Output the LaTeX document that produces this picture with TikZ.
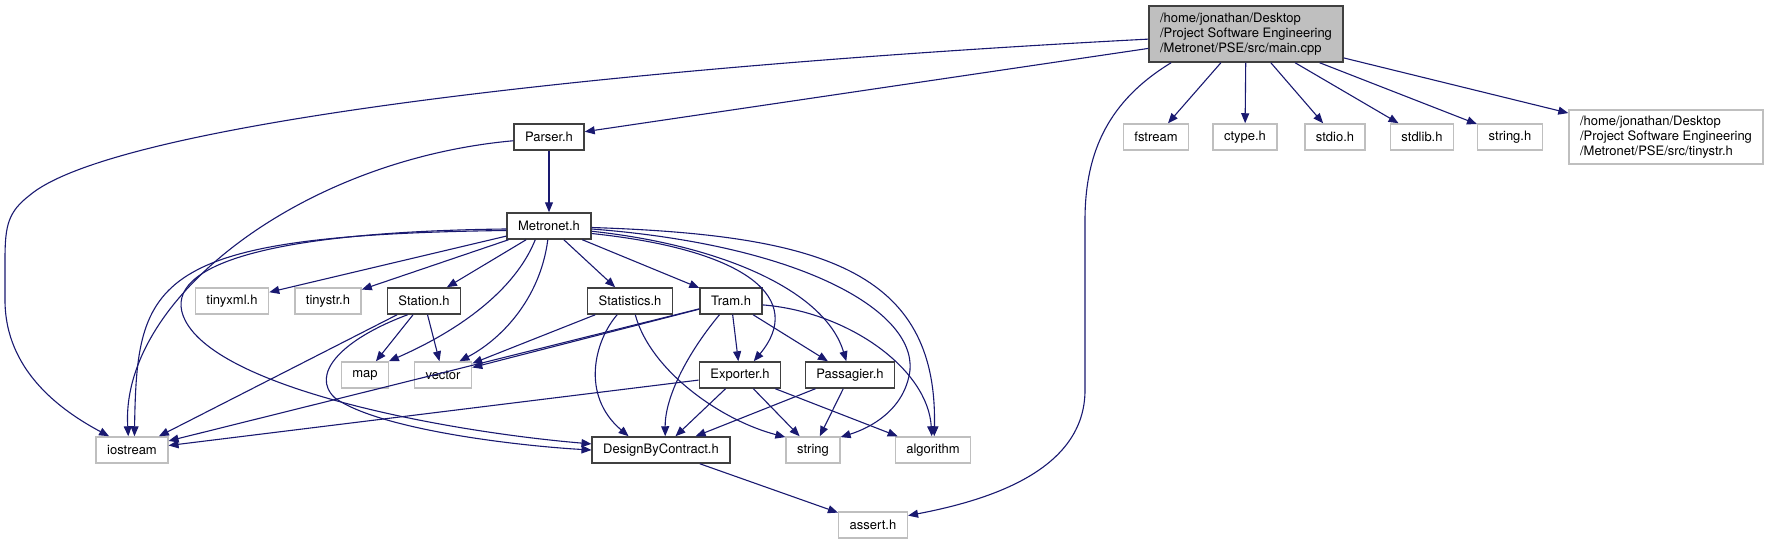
\documentclass[tikz,border=0pt]{standalone}
\usepackage{fontspec}
\setmainfont{TeX Gyre Heros}
\usepackage{tikz}
\usetikzlibrary{arrows.meta}
\definecolor{edgeblue}{HTML}{191970}
\definecolor{boxgray}{HTML}{BFBFBF}
\definecolor{boxdark}{HTML}{404040}

\begin{document}
\begin{tikzpicture}[x=1pt, y=-1pt,
    every node/.style={font=\fontsize{13}{15}\selectfont},
    hdr/.style={draw=boxdark, line width=1.5pt, fill=white, inner xsep=11pt, inner ysep=0pt, minimum height=26pt},
    sys/.style={hdr, draw=boxgray},
    root/.style={hdr, fill=boxgray, align=left, minimum height=56pt},
    dep/.style={draw=edgeblue, line width=1.1pt, -{Triangle[length=10pt, width=8pt]}}]
    \useasboundingbox (0,0) rectangle (1768,544);

    % main.cpp and the first row
    \node[root] (main) at (1246,34) {/home/jonathan/Desktop\\/Project Software Engineering\\/Metronet/PSE/src/main.cpp};
    \node[hdr] (parser) at (549,137) {Parser.h};
    \node[sys] (fstream) at (1156,137) {fstream};
    \node[sys] (ctype) at (1245,137) {ctype.h};
    \node[sys] (stdio) at (1335,137) {stdio.h};
    \node[sys] (stdlib) at (1422,137) {stdlib.h};
    \node[sys] (stringh) at (1510,137) {string.h};
    \node[sys, align=left, minimum height=54pt] (tinystrfull) at (1666,137) {/home/jonathan/Desktop\\/Project Software Engineering\\/Metronet/PSE/src/tinystr.h};

    \node[hdr] (metronet) at (549,226) {Metronet.h};

    \node[sys] (tinyxml) at (232,301) {tinyxml.h};
    \node[sys] (tinystr) at (328,301) {tinystr.h};
    \node[hdr] (station) at (424,301) {Station.h};
    \node[hdr] (statistics) at (630,301) {Statistics.h};
    \node[hdr] (tram) at (731,301) {Tram.h};

    \node[sys] (map) at (365,375) {map};
    \node[sys] (vector) at (443,375) {vector};
    \node[hdr] (exporter) at (740,375) {Exporter.h};
    \node[hdr] (passagier) at (850,375) {Passagier.h};

    \node[sys] (iostream) at (132,450) {iostream};
    \node[hdr] (dbc) at (661,450) {DesignByContract.h};
    \node[sys] (string) at (813,450) {string};
    \node[sys] (algorithm) at (933,450) {algorithm};

    \node[sys] (assert) at (873,525) {assert.h};

    % main.cpp includes
    \draw[dep] (main.183) .. controls (650,65) and (120,120) .. (30,195)
        .. controls (8,212) and (5,225) .. (5,260) -- (5,300)
        .. controls (5,370) and (60,410) .. (iostream.149);
    \draw[dep] (main) -- (parser);
    \draw[dep] (main.201) .. controls (1110,100) and (1085,150) .. (1085,220) -- (1085,390)
        .. controls (1085,470) and (990,500) .. (assert.15);
    \draw[dep] (main) -- (fstream);
    \draw[dep] (main) -- (ctype);
    \draw[dep] (main) -- (stdio);
    \draw[dep] (main) -- (stdlib);
    \draw[dep] (main) -- (stringh);
    \draw[dep] (main) -- (tinystrfull);

    % Parser.h
    \draw[dep] (parser.186) .. controls (300,160) and (120,300) .. (iostream.105);
    \draw[dep] (parser) -- (metronet);

    % Metronet.h
    \draw[dep] (metronet.186) .. controls (150,235) and (137,280) .. (iostream.80);
    \draw[dep] (metronet.184) .. controls (250,232) and (160,270) .. (185,320)
        .. controls (220,390) and (450,432) .. (dbc.175);
    \draw[dep] (metronet) -- (tinyxml);
    \draw[dep] (metronet) -- (tinystr);
    \draw[dep] (metronet) -- (station);
    \draw[dep] (metronet.225) .. controls (515,290) and (460,330) .. (map.30);
    \draw[dep] (metronet.265) .. controls (540,300) and (500,340) .. (vector.40);
    \draw[dep] (metronet) -- (statistics);
    \draw[dep] (metronet) -- (tram);
    \draw[dep] (metronet.350) .. controls (750,250) and (805,300) .. (exporter.45);
    \draw[dep] (metronet.353) .. controls (720,245) and (825,290) .. (passagier.105);
    \draw[dep] (metronet.356) .. controls (800,245) and (915,310) .. (910,370)
        .. controls (905,410) and (870,428) .. (string.25);
    \draw[dep] (metronet.358) .. controls (820,235) and (938,270) .. (algorithm.85);

    % Station.h
    \draw[dep] (station) -- (map);
    \draw[dep] (station) -- (vector);
    \draw[dep] (station) -- (iostream);
    \draw[dep] (station.220) .. controls (340,340) and (310,375) .. (335,398)
        .. controls (380,430) and (520,446) .. (dbc.180);

    % Statistics.h
    \draw[dep] (statistics) -- (vector);
    \draw[dep] (statistics.227) .. controls (595,340) and (580,395) .. (dbc.157);
    \draw[dep] (statistics.291) .. controls (650,370) and (720,420) .. (string.155);

    % Tram.h
    \draw[dep] (tram) -- (vector);
    \draw[dep] (tram) -- (iostream);
    \draw[dep] (tram.230) .. controls (690,350) and (665,395) .. (dbc.73);
    \draw[dep] (tram) -- (exporter);
    \draw[dep] (tram) -- (passagier);
    \draw[dep] (tram.353) .. controls (850,312) and (928,370) .. (algorithm.95);

    % Exporter.h and Passagier.h
    \draw[dep] (exporter) -- (iostream);
    \draw[dep] (exporter) -- (dbc);
    \draw[dep] (exporter) -- (string);
    \draw[dep] (exporter) -- (algorithm);
    \draw[dep] (passagier) -- (dbc);
    \draw[dep] (passagier) -- (string);

    % DesignByContract.h
    \draw[dep] (dbc) -- (assert);
\end{tikzpicture}
\end{document}
